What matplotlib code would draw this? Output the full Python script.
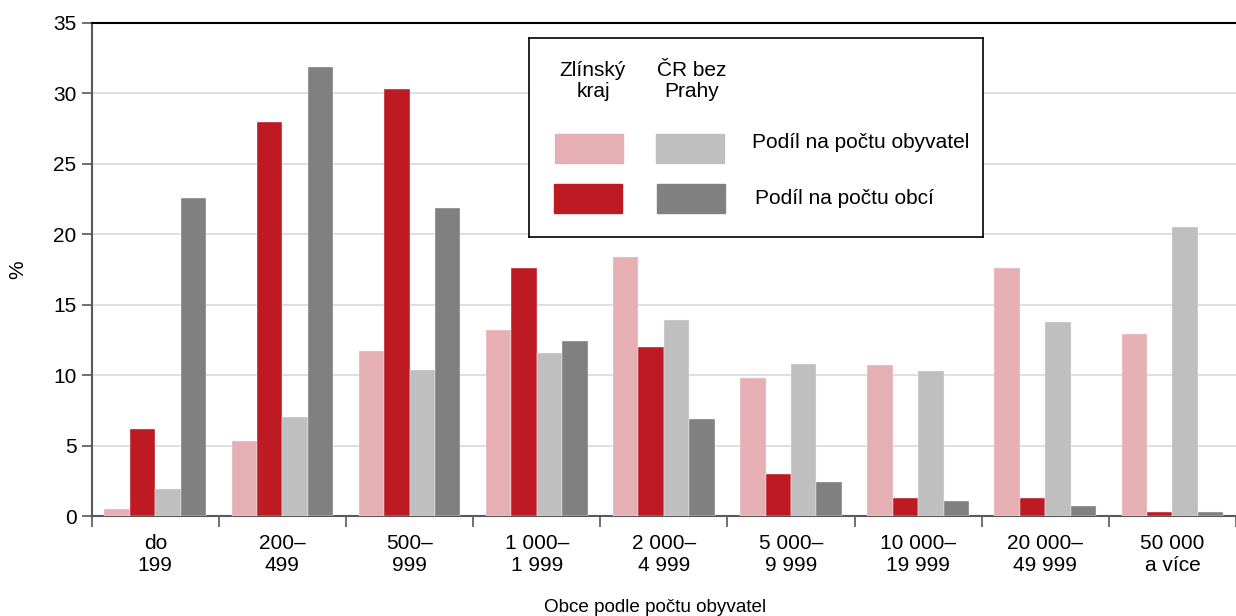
import numpy as np
import matplotlib
matplotlib.use("Agg")
import matplotlib.pyplot as plt
from matplotlib.patches import Rectangle

plt.rcParams['font.family'] = ['Liberation Sans', 'DejaVu Sans']

categories = ["do\n199", "200–\n499", "500–\n999", "1 000–\n1 999", "2 000–\n4 999",
              "5 000–\n9 999", "10 000–\n19 999", "20 000–\n49 999", "50 000\na více"]
# Zlínský kraj
zlin_obyvatel = [0.5, 5.3, 11.7, 13.2, 18.4, 9.8, 10.7, 17.6, 12.9]
zlin_obci = [6.2, 28.0, 30.3, 17.6, 12.0, 3.0, 1.3, 1.3, 0.3]
# ČR bez Prahy
cr_obyvatel = [1.9, 7.0, 10.4, 11.6, 13.9, 10.8, 10.3, 13.8, 20.5]
cr_obci = [22.6, 31.9, 21.9, 12.4, 6.9, 2.4, 1.1, 0.7, 0.3]

c_pink = "#E6AFB3"
c_red = "#BE1A24"
c_lgray = "#BFBFBF"
c_dgray = "#808080"
fs = 15

fig = plt.figure(figsize=(12.36, 6.16), dpi=100)
ax = fig.add_axes([91.7/1236, 1-516/616, (1236-91.7)/1236, 493/616])

x = np.arange(len(categories))
w = 0.2
series = [(zlin_obyvatel, c_pink), (zlin_obci, c_red), (cr_obyvatel, c_lgray), (cr_obci, c_dgray)]
for i, (vals, col) in enumerate(series):
    ax.bar(x - 0.3 + i*w, vals, width=w, color=col, edgecolor="#F2F2F2", linewidth=0.3, zorder=3)

ax.set_xlim(-0.5, 8.41)
ax.set_ylim(0, 35)
ax.set_yticks(range(0, 36, 5))
ax.grid(axis="y", color="#D9D9D9", linewidth=1.2, zorder=0)
ax.set_axisbelow(True)

ax.set_xticks(x)
ax.set_xticklabels(categories, fontsize=fs, linespacing=1.2)
ax.set_xticks(np.arange(-0.5, 9, 1), minor=True)
ax.tick_params(axis="x", which="major", length=0, pad=13)
ax.tick_params(axis="x", which="minor", length=8, width=1.2, color="#595959")
ax.tick_params(axis="y", length=7, width=1.2, color="#595959", labelsize=fs, pad=4)

for s in ["left", "bottom"]:
    ax.spines[s].set_color("#595959")
    ax.spines[s].set_linewidth(1.5)
ax.spines["top"].set_color("black")
ax.spines["top"].set_linewidth(1.5)
ax.spines["right"].set_visible(False)

fig.text(18/1236, 1-270/616, "%", rotation=90, fontsize=fs, ha="center", va="center")
fig.text(655/1236, 1-607/616, "Obce podle počtu obyvatel", fontsize=13.6, ha="center", va="center")

# legend box
lg = fig.add_axes([529/1236, 1-237/616, 454/1236, 199/616])
lg.set_xlim(0, 454)
lg.set_ylim(199, 0)
lg.set_xticks([])
lg.set_yticks([])
for s in lg.spines.values():
    s.set_color("black")
    s.set_linewidth(1.2)
lg.text(64, 43, "Zlínský\nkraj", fontsize=fs, ha="center", va="center", linespacing=1.1)
lg.text(163, 43, "ČR bez\nPrahy", fontsize=fs, ha="center", va="center", linespacing=1.1)
lg.add_patch(Rectangle((26, 96), 68, 29, color=c_pink))
lg.add_patch(Rectangle((127, 96), 68, 29, color=c_lgray))
lg.add_patch(Rectangle((25, 146), 68, 29, color=c_red))
lg.add_patch(Rectangle((128, 146), 68, 29, color=c_dgray))
lg.text(223, 105, "Podíl na počtu obyvatel", fontsize=fs, ha="left", va="center")
lg.text(226, 160, "Podíl na počtu obcí", fontsize=fs, ha="left", va="center")

fig.savefig("out.png", dpi=100)
